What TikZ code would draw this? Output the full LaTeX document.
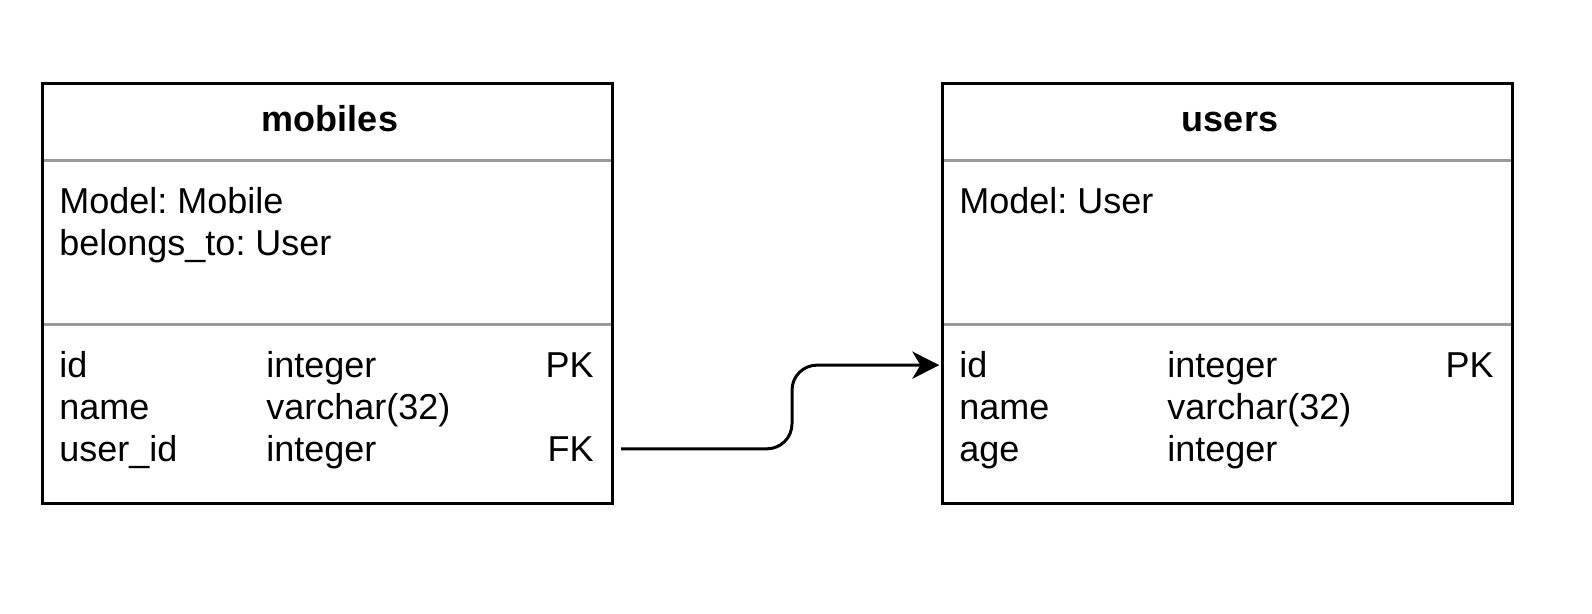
\documentclass[tikz,border=0pt]{standalone}
\usepackage{fontspec}
\setmainfont{Liberation Sans}
\usetikzlibrary{arrows.meta}
\definecolor{rulegray}{HTML}{9A9A9A}
\frenchspacing
\begin{document}
\begin{tikzpicture}[x=0.5pt,y=-0.5pt,
  table/.style={draw=black, line width=1.5pt, minimum width=285pt, minimum height=210pt, inner sep=0pt},
  rule/.style={draw=rulegray, line width=1.5pt},
  title/.style={font=\fontsize{18}{20}\selectfont\bfseries, anchor=base, inner sep=0pt},
  txt/.style={font=\fontsize{18}{20}\selectfont, anchor=base west, inner sep=0pt},
  key/.style={font=\fontsize{18}{20}\selectfont, anchor=base east, inner sep=0pt},
  link/.style={line width=1.5pt, rounded corners=12.5pt, -{Stealth[length=13.5pt,width=13.5pt,inset=4pt]}}
]
\useasboundingbox (0,0) rectangle (1592,614);

% table frames
\node[table] (mob) at (327.5,294) {};
\node[table] (usr) at (1227.5,294) {};

% compartment separators
\draw[rule] (44,160.5) -- (611,160.5);
\draw[rule] (44,325) -- (611,325);
\draw[rule] (944,160.5) -- (1511,160.5);
\draw[rule] (944,325) -- (1511,325);

% mobiles
\node[title] (mobt) at (330,132) {mobiles};
\node[txt] (mobm1) at (59,213.5) {Model: Mobile};
\node[txt] (mobm2) at (59,255.5) {belongs\_to: User};
\node[txt] (mobid) at (59,378) {id};
\node[txt] (mobidt) at (266,378) {integer};
\node[key] (mobpk) at (594,378) {PK};
\node[txt] (mobname) at (59,419.6) {name};
\node[txt] (mobnamet) at (266,419.6) {varchar(32)};
\node[txt] (mobuid) at (59,461.2) {user\_id};
\node[txt] (mobuidt) at (266,461.2) {integer};
\node[key] (mobfk) at (594,461.2) {FK};

% users
\node[title] (usrt) at (1230,132) {users};
\node[txt] (usrm1) at (959,213.5) {Model: User};
\node[txt] (usrid) at (959,378) {id};
\node[txt] (usridt) at (1167,378) {integer};
\node[key] (usrpk) at (1494,378) {PK};
\node[txt] (usrname) at (959,419.6) {name};
\node[txt] (usrnamet) at (1167,419.6) {varchar(32)};
\node[txt] (usrage) at (959,461.2) {age};
\node[txt] (usraget) at (1167,461.2) {integer};

% foreign key reference
\coordinate (fkout) at ([xshift=3.5pt]mob.east |- mobfk.center);
\coordinate (pkin) at (usr.west |- usrid.center);
\draw[link] (fkout) -| (792,0 |- pkin) -- ([xshift=-0.8pt]pkin);
\end{tikzpicture}
\end{document}
